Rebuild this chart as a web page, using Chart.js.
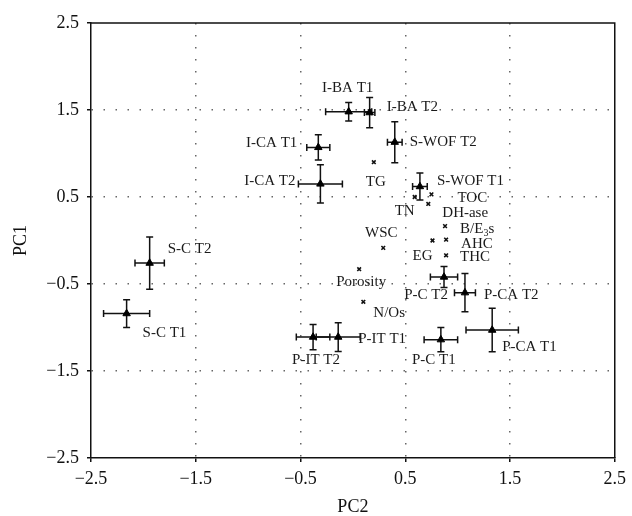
<!DOCTYPE html>
<html><head><meta charset="utf-8">
<script src="https://cdn.jsdelivr.net/npm/chart.js@4/dist/chart.umd.min.js"></script>
<style>html,body{margin:0;padding:0;background:#fff}canvas{display:block}</style>
</head><body>
<canvas id="c" width="632" height="516"></canvas>
<script>
// ---- data ----
const treatNames = ['I-BA T1','I-BA T2','S-WOF T2','I-CA T1','I-CA T2','S-WOF T1','S-C T2','S-C T1','P-C T2','P-CA T2','P-CA T1','P-C T1','P-IT T2','P-IT T1'];
const treatPC2 = [-0.04, 0.16, 0.40, -0.33, -0.31, 0.64, -1.94, -2.16, 0.87, 1.07, 1.33, 0.84, -0.38, -0.14];
const treatPC1 = [1.48, 1.47, 1.13, 1.07, 0.65, 0.62, -0.26, -0.84, -0.42, -0.60, -1.03, -1.14, -1.11, -1.11];
const treatPC2Err = [0.22, 0.05, 0.07, 0.11, 0.21, 0.07, 0.14, 0.22, 0.13, 0.10, 0.25, 0.16, 0.16, 0.21];
const treatPC1Err = [0.105, 0.175, 0.235, 0.145, 0.22, 0.155, 0.30, 0.16, 0.12, 0.22, 0.25, 0.14, 0.145, 0.165];

const varNames = ['TG','TN','TOC','DH-ase','B/E\u2083s','AHC','EG','THC','WSC','Porosity','N/Os'];
const varPC2 = [0.20, 0.59, 0.75, 0.72, 0.88, 0.89, 0.76, 0.89, 0.29, 0.06, 0.10];
const varPC1 = [0.90, 0.50, 0.53, 0.42, 0.165, 0.01, 0.00, -0.17, -0.085, -0.33, -0.705];

const xTicks = [-2.5, -1.5, -0.5, 0.5, 1.5, 2.5];
const yTicks = [-2.5, -1.5, -0.5, 0.5, 1.5, 2.5];

// ---- label placement (style: pixel offsets from marker, alignment) ----
const treatLabelStyle = [
  ['center', -1, -24], ['left', 17, -6], ['left', 15, 0], ['right', -21, -4], ['right', -25, -3],
  ['left', 17, -5], ['left', 18, -14], ['left', 16, 19], ['center', -18, 18], ['left', 19, 2],
  ['left', 10, 17], ['center', -7, 20], ['center', 3, 23], ['left', 20, 2]
];
const varLabelStyle = [
  ['center', 2, 20], ['center', -10, 14], ['left', 26, 4], ['left', 14, 9], ['left', 15, 3],
  ['left', 15, 4], ['center', -10, 16], ['left', 14, 2], ['center', -2, -15], ['center', 2, 13], ['left', 10, 11]
];

const SERIF = "'Liberation Serif', 'Times New Roman', serif";
const fmt = v => (v < 0 ? '\u2212' : '') + Math.abs(v).toFixed(1);

const errorBars = {
  id: 'errorBars',
  beforeDatasetsDraw(chart) {
    const {ctx, scales: {x, y}} = chart;
    const cap = 3.5;
    ctx.save();
    ctx.strokeStyle = '#111';
    ctx.lineWidth = 1.5;
    treatPC2.forEach((xv, i) => {
      const yv = treatPC1[i];
      const px = x.getPixelForValue(xv), py = y.getPixelForValue(yv);
      const xl = x.getPixelForValue(xv - treatPC2Err[i]), xr = x.getPixelForValue(xv + treatPC2Err[i]);
      const yt = y.getPixelForValue(yv + treatPC1Err[i]), yb = y.getPixelForValue(yv - treatPC1Err[i]);
      ctx.beginPath();
      ctx.moveTo(xl, py); ctx.lineTo(xr, py);
      ctx.moveTo(xl, py - cap); ctx.lineTo(xl, py + cap);
      ctx.moveTo(xr, py - cap); ctx.lineTo(xr, py + cap);
      ctx.moveTo(px, yt); ctx.lineTo(px, yb);
      ctx.moveTo(px - cap, yt); ctx.lineTo(px + cap, yt);
      ctx.moveTo(px - cap, yb); ctx.lineTo(px + cap, yb);
      ctx.stroke();
    });
    ctx.restore();
  }
};

function drawLabel(ctx, text, x, y, align) {
  ctx.textBaseline = 'middle';
  if (text.indexOf('\u2083') < 0) {
    ctx.textAlign = align;
    ctx.fillText(text, x, y);
    return;
  }
  const parts = text.split('\u2083');
  const mainFont = ctx.font;
  const subFont = "10px " + SERIF;
  const w0 = ctx.measureText(parts[0]).width;
  ctx.font = subFont; const ws = ctx.measureText('3').width; ctx.font = mainFont;
  const w1 = ctx.measureText(parts[1]).width;
  const tot = w0 + ws + w1;
  let sx = align === 'left' ? x : (align === 'right' ? x - tot : x - tot / 2);
  ctx.textAlign = 'left';
  ctx.fillText(parts[0], sx, y);
  ctx.font = subFont; ctx.fillText('3', sx + w0, y + 4); ctx.font = mainFont;
  ctx.fillText(parts[1], sx + w0 + ws, y);
}

const labels = {
  id: 'pointLabels',
  afterDatasetsDraw(chart) {
    const {ctx, scales: {x, y}} = chart;
    ctx.save();
    ctx.fillStyle = '#1a1a1a';
    ctx.font = "15px " + SERIF;
    treatNames.forEach((n, i) => {
      const [a, dx, dy] = treatLabelStyle[i];
      drawLabel(ctx, n, x.getPixelForValue(treatPC2[i]) + dx, y.getPixelForValue(treatPC1[i]) + dy, a);
    });
    varNames.forEach((n, i) => {
      const [a, dx, dy] = varLabelStyle[i];
      drawLabel(ctx, n, x.getPixelForValue(varPC2[i]) + dx, y.getPixelForValue(varPC1[i]) + dy, a);
    });
    ctx.restore();
  }
};

const frame = {
  id: 'frame',
  afterDraw(chart) {
    const {ctx, chartArea: a} = chart;
    ctx.save();
    ctx.strokeStyle = '#111';
    ctx.lineWidth = 1.5;
    ctx.beginPath();
    ctx.moveTo(a.left, a.top); ctx.lineTo(a.right, a.top); ctx.lineTo(a.right, a.bottom);
    ctx.stroke();
    ctx.restore();
  }
};

const gridColor = c => (c.tick && Math.abs(Math.abs(c.tick.value) - 2.5) < 1e-6) ? 'rgba(0,0,0,0)' : '#666';

new Chart(document.getElementById('c'), {
  type: 'scatter',
  data: {
    datasets: [
      {
        data: treatPC2.map((v, i) => ({x: v, y: treatPC1[i]})),
        pointStyle: 'triangle', pointRadius: 4.3, pointBackgroundColor: '#000', pointBorderColor: '#000', pointBorderWidth: 1
      },
      {
        data: varPC2.map((v, i) => ({x: v, y: varPC1[i]})),
        pointStyle: 'crossRot', pointRadius: 2.6, pointBorderColor: '#111', pointBorderWidth: 1.6
      }
    ]
  },
  options: {
    responsive: false, animation: false, devicePixelRatio: 1,
    layout: {padding: {top: 23, right: 16, left: 0, bottom: 0}},
    plugins: {legend: {display: false}, tooltip: {enabled: false}},
    scales: {
      x: {
        type: 'linear', min: -2.5, max: 2.5,
        afterBuildTicks: s => { s.ticks = xTicks.map(v => ({value: v})); },
        afterFit: s => { s.height = 58; },
        ticks: {callback: v => fmt(v), color: '#111', padding: 6, maxRotation: 0, autoSkip: false, font: {family: SERIF, size: 18}},
        grid: {color: gridColor, lineWidth: 1.5, tickColor: '#111', tickLength: 4, tickWidth: 1.5},
        border: {display: true, color: '#111', width: 1.5, dash: [1.5, 10.5]},
        title: {display: true, text: 'PC2', color: '#111', font: {family: SERIF, size: 18, lineHeight: 1}, padding: {top: 0, bottom: 0}}
      },
      y: {
        type: 'linear', min: -2.5, max: 2.5,
        afterBuildTicks: s => { s.ticks = yTicks.map(v => ({value: v})); },
        afterFit: s => { s.width = 91; },
        ticks: {callback: v => fmt(v), color: '#111', padding: 8, autoSkip: false, font: {family: SERIF, size: 18}},
        grid: {color: gridColor, lineWidth: 1.5, tickColor: '#111', tickLength: 4, tickWidth: 1.5},
        border: {display: true, color: '#111', width: 1.5, dash: [1.5, 10.5]},
        title: {display: true, text: 'PC1', color: '#111', font: {family: SERIF, size: 18, lineHeight: 1}, padding: {top: 12, bottom: 0}}
      }
    }
  },
  plugins: [errorBars, labels, frame]
});
</script>
</body></html>
